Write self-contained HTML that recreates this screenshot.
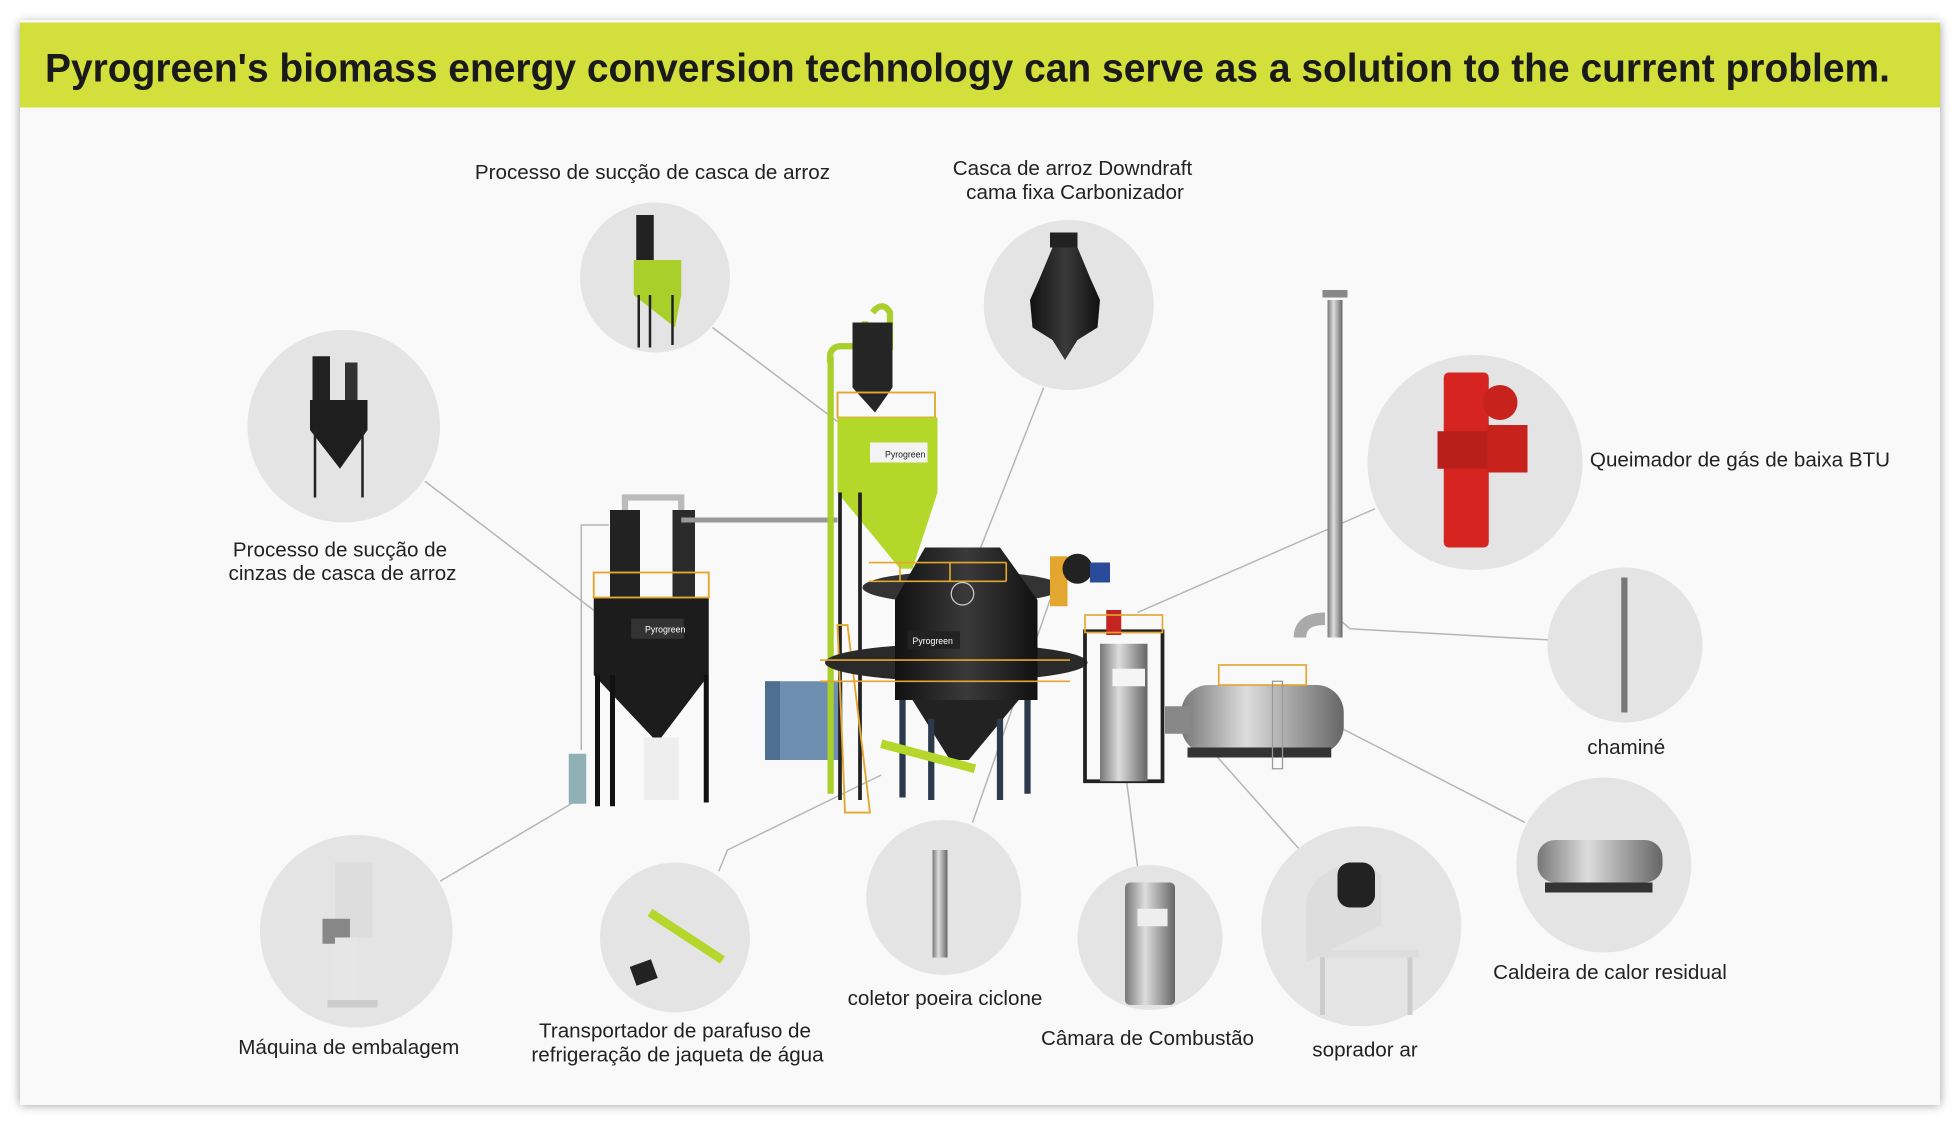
<!DOCTYPE html>
<html><head><meta charset="utf-8"><style>
html,body{margin:0;padding:0;background:#fff;}
svg{display:block;}
text{font-family:"Liberation Sans",sans-serif;fill:#222;}
</style></head><body>
<svg width="1960" height="1125" viewBox="0 0 1568 900" xmlns="http://www.w3.org/2000/svg">
<defs>
<filter id="sh" x="-5%" y="-5%" width="110%" height="110%"><feGaussianBlur stdDeviation="4"/></filter>
<linearGradient id="silver" x1="0" x2="1"><stop offset="0" stop-color="#777"/><stop offset=".4" stop-color="#ddd"/><stop offset="1" stop-color="#666"/></linearGradient>
<linearGradient id="blk" x1="0" x2="1"><stop offset="0" stop-color="#111"/><stop offset=".5" stop-color="#3a3a3a"/><stop offset="1" stop-color="#111"/></linearGradient>
</defs>
<rect width="1568" height="900" fill="#fff"/>
<rect x="16" y="18" width="1536" height="866" fill="#999" filter="url(#sh)"/>
<rect x="16" y="16" width="1536" height="868" fill="#f9f9f9"/>
<rect x="16" y="18" width="1536" height="68" fill="#d3df3a"/>
<text x="36" y="65" font-size="32" font-weight="bold" textLength="1476" lengthAdjust="spacingAndGlyphs" style="fill:#1a1a1a">Pyrogreen's biomass energy conversion technology can serve as a solution to the current problem.</text>

<!-- connectors -->
<g stroke="#b5b5b5" stroke-width="1.2" fill="none">
<line x1="570" y1="262" x2="703" y2="362"/>
<line x1="835" y1="310" x2="770" y2="475"/>
<line x1="340" y1="385" x2="510" y2="515"/>
<line x1="1100" y1="407" x2="910" y2="490"/>
<polyline points="1240,512 1080,503 1065,490"/>
<line x1="1220" y1="658" x2="1068" y2="580"/>
<line x1="1040" y1="680" x2="960" y2="590"/>
<line x1="910" y1="693" x2="893" y2="560"/>
<line x1="778" y1="658" x2="840" y2="480"/>
<polyline points="575,697 582,680 705,620"/>
<line x1="352" y1="705" x2="462" y2="640"/>
<polyline points="465,600 465,420 487,420"/>
</g>

<!-- circles -->
<g fill="#e4e4e4">
<circle cx="524" cy="222" r="60"/>
<circle cx="855" cy="244" r="68"/>
<circle cx="275" cy="341" r="77"/>
<circle cx="1180" cy="370" r="86"/>
<circle cx="1300" cy="516" r="62"/>
<circle cx="1283" cy="692" r="70"/>
<circle cx="1089" cy="741" r="80"/>
<circle cx="920" cy="750" r="58"/>
<circle cx="755" cy="718" r="62"/>
<circle cx="540" cy="750" r="60"/>
<circle cx="285" cy="745" r="77"/>
</g>

<!-- circle icons -->
<g>
<rect x="509" y="172" width="14" height="36" fill="#222"/>
<rect x="507" y="208" width="38" height="28" fill="#a8cf2a"/>
<polygon points="507,236 545,236 540,262" fill="#a8cf2a"/>
<g stroke="#222" stroke-width="2"><line x1="511" y1="236" x2="511" y2="278"/><line x1="520" y1="236" x2="520" y2="278"/><line x1="538" y1="236" x2="538" y2="276"/></g>
<polygon points="842,198 862,198 872,222 880,240 878,262 862,272 852,288 842,272 826,262 824,240 832,222" fill="url(#blk)"/>
<rect x="840" y="186" width="22" height="12" fill="#222"/>
<rect x="250" y="285" width="14" height="36" fill="#222"/><rect x="276" y="290" width="10" height="30" fill="#333"/>
<rect x="248" y="320" width="46" height="24" fill="#1e1e1e"/>
<polygon points="248,344 294,344 272,375" fill="#1e1e1e"/>
<g stroke="#222" stroke-width="2"><line x1="252" y1="344" x2="252" y2="398"/><line x1="290" y1="344" x2="290" y2="398"/></g>
<rect x="1155" y="298" width="36" height="140" rx="4" fill="#d62520"/>
<rect x="1150" y="345" width="46" height="30" fill="#b81e1a"/>
<rect x="1190" y="340" width="32" height="38" fill="#c8221d"/>
<circle cx="1200" cy="322" r="14" fill="#c8221d"/>
<rect x="1297" y="462" width="5" height="108" fill="#777"/>
<rect x="1230" y="672" width="100" height="34" rx="14" fill="url(#silver)"/>
<rect x="1236" y="706" width="86" height="8" fill="#333"/>
<path d="M1045,720 a38,38 0 0 1 60,-20 l0,40 l-60,30z" fill="#ddd"/>
<rect x="1070" y="690" width="30" height="36" rx="10" fill="#222"/>
<rect x="1055" y="760" width="80" height="6" fill="#ddd"/>
<g stroke="#ccc" stroke-width="4"><line x1="1058" y1="766" x2="1058" y2="812"/><line x1="1128" y1="766" x2="1128" y2="812"/></g>
<rect x="900" y="706" width="40" height="98" rx="4" fill="url(#silver)"/>
<rect x="910" y="727" width="24" height="14" fill="#eee"/>
<rect x="746" y="680" width="12" height="86" fill="url(#silver)"/>
<line x1="520" y1="730" x2="578" y2="768" stroke="#b5d62a" stroke-width="7"/>
<rect x="506" y="770" width="18" height="16" fill="#222" transform="rotate(-20 515 778)"/>
<rect x="268" y="690" width="30" height="60" fill="#ddd"/>
<rect x="258" y="735" width="22" height="20" fill="#888"/>
<rect x="268" y="750" width="18" height="50" fill="#e6e6e6"/>
<rect x="262" y="800" width="40" height="6" fill="#ccc"/>
</g>

<!-- main plant -->
<g>
<rect x="612" y="545" width="62" height="63" fill="#6f8fb0"/>
<rect x="612" y="545" width="12" height="63" fill="#4f6f90"/>
<rect x="488" y="408" width="24" height="70" fill="#222"/>
<rect x="538" y="408" width="18" height="70" fill="#2b2b2b"/>
<path d="M500,408 v-10 h45 v10" stroke="#bbb" stroke-width="5" fill="none"/>
<line x1="545" y1="416" x2="670" y2="416" stroke="#999" stroke-width="4"/>
<rect x="475" y="478" width="92" height="62" fill="#1c1c1c"/>
<polygon points="475,540 567,540 526,594" fill="#1c1c1c"/>
<g stroke="#111" stroke-width="4"><line x1="478" y1="540" x2="478" y2="645"/><line x1="490" y1="540" x2="490" y2="645"/><line x1="565" y1="540" x2="565" y2="642"/></g>
<rect x="475" y="458" width="92" height="20" fill="none" stroke="#e3a72f" stroke-width="1.5"/>
<rect x="505" y="495" width="42" height="16" fill="#333"/>
<text x="516" y="506" font-size="7" style="fill:#fff">Pyrogreen</text>
<rect x="515" y="590" width="28" height="50" fill="#eee"/>
<rect x="455" y="603" width="14" height="40" fill="#8fb0b5"/>
<rect x="662" y="285" width="5" height="350" fill="#a8cf2a"/>
<path d="M664,290 v-5 a8,8 0 0 1 8,-8 h20 v-20" stroke="#a8cf2a" stroke-width="5" fill="none"/>
<path d="M698,250 q8,-10 14,0 v30" stroke="#a8cf2a" stroke-width="5" fill="none"/>
<rect x="682" y="258" width="32" height="52" fill="#252525"/>
<polygon points="682,310 714,310 700,330" fill="#252525"/>
<rect x="670" y="314" width="78" height="20" fill="none" stroke="#e3a72f" stroke-width="1.5"/>
<rect x="670" y="334" width="80" height="60" fill="#b3d82a"/>
<polygon points="670,394 750,394 730,455 720,455" fill="#b3d82a"/>
<rect x="696" y="354" width="46" height="16" fill="#f3f3f3"/>
<text x="708" y="366" font-size="7">Pyrogreen</text>
<g stroke="#222" stroke-width="3"><line x1="672" y1="394" x2="672" y2="640"/><line x1="688" y1="394" x2="688" y2="640"/></g>
<polygon points="670,500 678,500 696,650 676,650" fill="none" stroke="#e3a72f" stroke-width="1.5"/>
<ellipse cx="770" cy="470" rx="80" ry="13" fill="#333"/>
<ellipse cx="765" cy="530" rx="105" ry="15" fill="#2a2a2a"/>
<polygon points="740,438 800,438 830,480 830,560 716,560 716,480" fill="url(#blk)"/>
<polygon points="730,560 815,560 775,608 760,608" fill="#222"/>
<rect x="726" y="505" width="42" height="14" fill="#222"/>
<text x="730" y="515" font-size="7" style="fill:#fff">Pyrogreen</text>
<g stroke="#e3a72f" stroke-width="1.3" fill="none"><path d="M695,450 h110 M695,465 h110"/><path d="M656,528 h200 M656,545 h200"/><path d="M805,450 v15 M760,450 v15 M720,450 v15"/></g>
<g stroke="#2b3a4a" stroke-width="5"><line x1="722" y1="560" x2="722" y2="638"/><line x1="745" y1="575" x2="745" y2="640"/><line x1="800" y1="575" x2="800" y2="640"/><line x1="822" y1="560" x2="822" y2="635"/></g>
<line x1="705" y1="595" x2="780" y2="615" stroke="#b5d62a" stroke-width="7"/>
<circle cx="770" cy="475" r="9" fill="none" stroke="#ccc"/>
<rect x="840" y="445" width="14" height="40" fill="#e3a72f"/>
<circle cx="862" cy="455" r="12" fill="#222"/>
<rect x="872" y="450" width="16" height="16" fill="#2a4a9a"/>
<rect x="868" y="505" width="62" height="120" fill="none" stroke="#222" stroke-width="3"/>
<rect x="880" y="515" width="38" height="110" fill="url(#silver)"/>
<rect x="890" y="535" width="26" height="14" fill="#f5f5f5"/>
<rect x="885" y="488" width="12" height="20" fill="#c42520"/>
<rect x="868" y="492" width="62" height="14" fill="none" stroke="#e3a72f" stroke-width="1.3"/>
<rect x="1062" y="240" width="12" height="270" fill="url(#silver)"/>
<rect x="1058" y="232" width="20" height="6" fill="#888"/>
<path d="M1040,510 q0,-15 20,-15" stroke="#aaa" stroke-width="10" fill="none"/>
<rect x="945" y="548" width="130" height="55" rx="22" fill="url(#silver)"/>
<rect x="932" y="565" width="20" height="22" fill="#888"/>
<rect x="950" y="598" width="115" height="8" fill="#333"/>
<rect x="975" y="532" width="70" height="16" fill="none" stroke="#e3a72f" stroke-width="1.3"/>
<rect x="1018" y="545" width="8" height="70" fill="none" stroke="#999"/>
</g>

<g font-size="16.5" text-anchor="middle">
<text x="522" y="143">Processo de sucção de casca de arroz</text>
<text x="858" y="140">Casca de arroz Downdraft</text>
<text x="860" y="159">cama fixa Carbonizador</text>
<text x="272" y="445">Processo de sucção de</text>
<text x="274" y="464">cinzas de casca de arroz</text>
<text x="1392" y="373">Queimador de gás de baixa BTU</text>
<text x="1301" y="603">chaminé</text>
<text x="1288" y="783">Caldeira de calor residual</text>
<text x="1092" y="845">soprador ar</text>
<text x="918" y="836">Câmara de Combustão</text>
<text x="756" y="804">coletor poeira ciclone</text>
<text x="540" y="830">Transportador de parafuso de</text>
<text x="542" y="849">refrigeração de jaqueta de água</text>
<text x="279" y="843">Máquina de embalagem</text>
</g>
</svg>
</body></html>
